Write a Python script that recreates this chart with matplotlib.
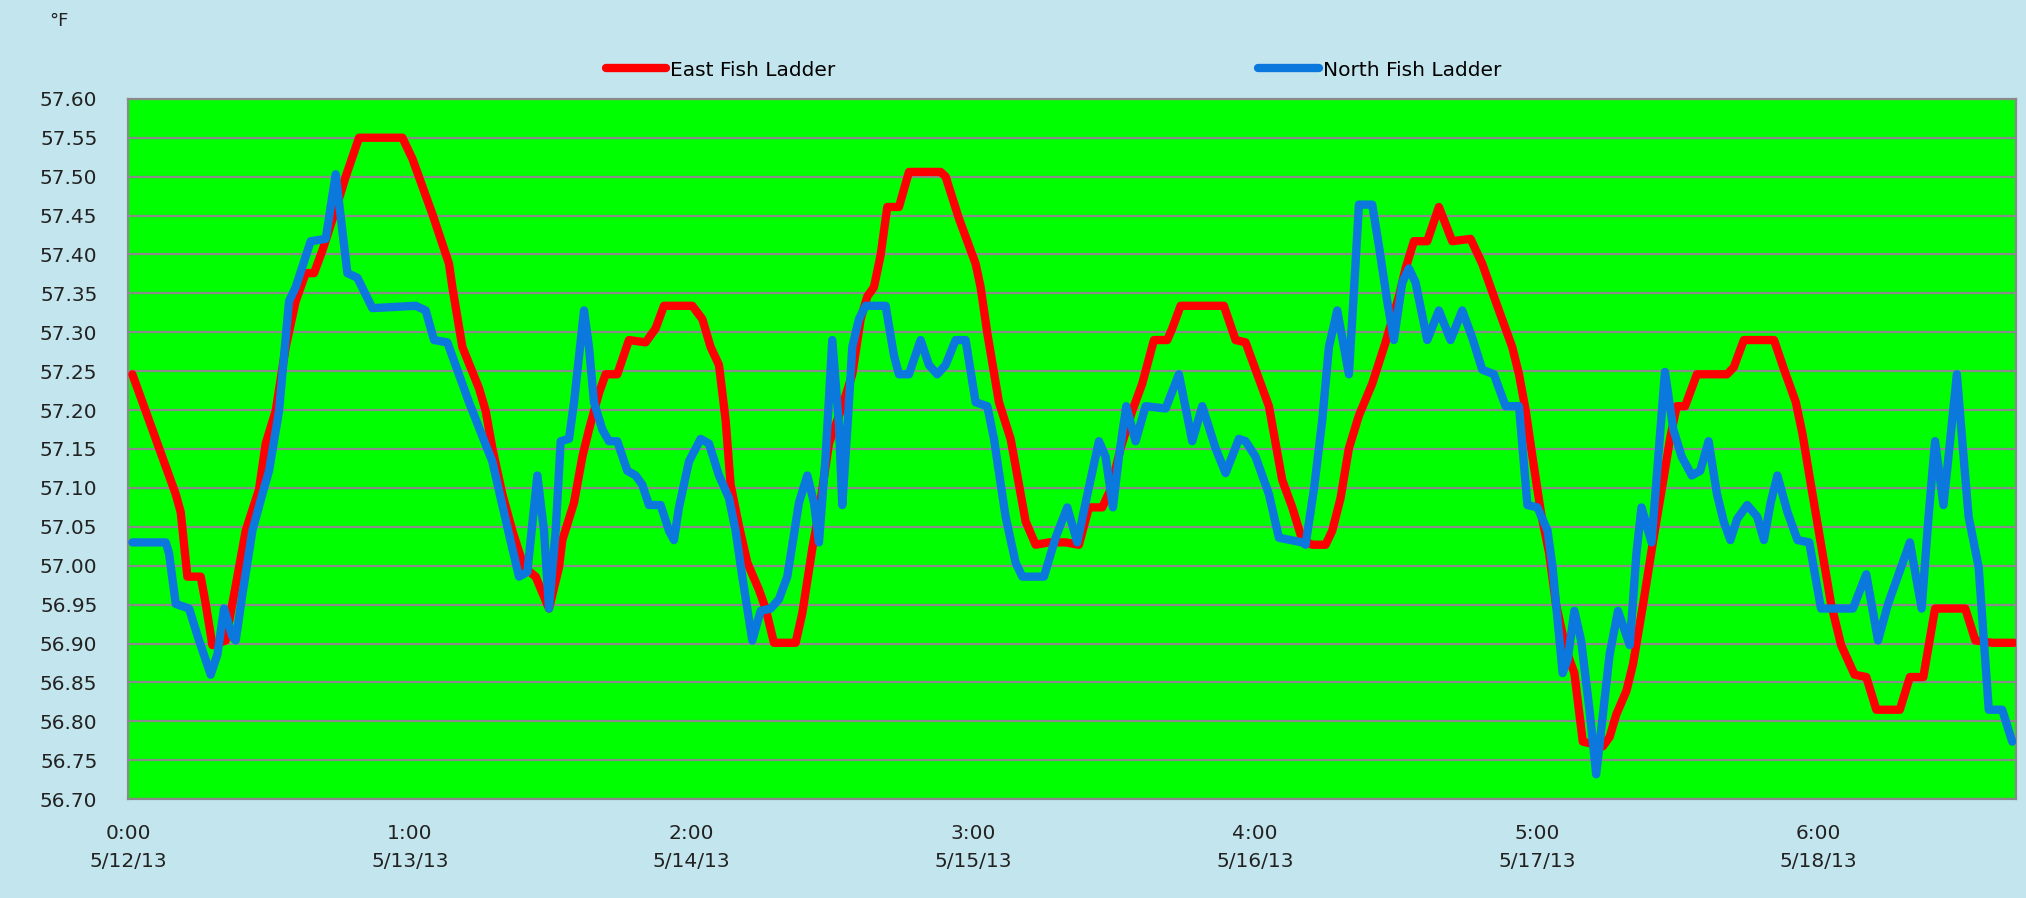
import matplotlib.pyplot as plt

# x in days since 5/12/13 0:00, values in deg F
east_x = [0.0154, 0.0864, 0.1692, 0.1869, 0.2106, 0.2579, 0.2757, 0.2993, 0.3466, 0.3703,
          0.4176, 0.4649, 0.4886, 0.5241, 0.5596, 0.5950, 0.6305, 0.6601, 0.6897, 0.7370,
          0.7725, 0.8198, 0.9736, 1.0091, 1.0800, 1.1392, 1.1510, 1.1865, 1.2456, 1.2693,
          1.2929, 1.3284, 1.3639, 1.4053, 1.4467, 1.4940, 1.5295, 1.5414, 1.5828, 1.6124,
          1.6360, 1.6714, 1.6950, 1.7364, 1.7778, 1.8370, 1.8725, 1.9020, 2.0026, 2.0381,
          2.0676, 2.0972, 2.1209, 2.1386, 2.1682, 2.1978, 2.2392, 2.2628, 2.2924, 2.3693,
          2.3930, 2.4284, 2.4521, 2.4876, 2.5349, 2.5704, 2.6000, 2.6236, 2.6473, 2.6709,
          2.6946, 2.7360, 2.7715, 2.8839, 2.9016, 2.9490, 3.0081, 3.0258, 3.0495, 3.0909,
          3.1323, 3.1500, 3.1855, 3.2210, 3.2683, 3.3274, 3.3747, 3.4102, 3.4576, 3.4871,
          3.5226, 3.5640, 3.5995, 3.6409, 3.6882, 3.7060, 3.7355, 3.8893, 3.9307, 3.9662,
          4.0017, 4.0490, 4.0727, 4.0963, 4.1318, 4.1673, 4.2028, 4.2501, 4.2738, 4.3033,
          4.3329, 4.3684, 4.4157, 4.4630, 4.5103, 4.5340, 4.5636, 4.6109, 4.6523, 4.6996,
          4.7647, 4.8061, 4.8534, 4.9125, 4.9366, 4.9605, 4.9843, 5.0141, 5.0438, 5.0676,
          5.1034, 5.1331, 5.1629, 5.2343, 5.2582, 5.2820, 5.3177, 5.3415, 5.3772, 5.4130,
          5.4487, 5.4725, 5.4963, 5.5261, 5.5678, 5.6749, 5.6988, 5.7345, 5.8417, 5.8774,
          5.9191, 5.9429, 5.9726, 6.0084, 6.0441, 6.0798, 6.1274, 6.1691, 6.2048, 6.2882,
          6.3239, 6.3716, 6.4132, 6.5204, 6.5561, 6.6157, 6.6931]
east_y = [57.246, 57.175, 57.092, 57.069, 56.986, 56.986, 56.951, 56.898, 56.904, 56.951,
          57.045, 57.098, 57.157, 57.199, 57.281, 57.340, 57.376, 57.376, 57.405, 57.458,
          57.500, 57.550, 57.550, 57.523, 57.452, 57.388, 57.358, 57.281, 57.228, 57.199,
          57.151, 57.092, 57.045, 56.998, 56.986, 56.945, 56.998, 57.033, 57.081, 57.140,
          57.175, 57.222, 57.246, 57.246, 57.290, 57.287, 57.305, 57.334, 57.334, 57.317,
          57.281, 57.258, 57.187, 57.104, 57.051, 57.004, 56.969, 56.945, 56.901, 56.901,
          56.939, 57.022, 57.069, 57.157, 57.205, 57.246, 57.317, 57.346, 57.358, 57.399,
          57.461, 57.461, 57.506, 57.506, 57.500, 57.446, 57.388, 57.358, 57.299, 57.210,
          57.163, 57.128, 57.057, 57.027, 57.030, 57.030, 57.027, 57.075, 57.075, 57.098,
          57.151, 57.199, 57.234, 57.290, 57.290, 57.305, 57.334, 57.334, 57.290, 57.287,
          57.252, 57.205, 57.157, 57.110, 57.075, 57.033, 57.027, 57.027, 57.045, 57.087,
          57.151, 57.193, 57.234, 57.287, 57.346, 57.382, 57.417, 57.417, 57.461, 57.417,
          57.420, 57.388, 57.340, 57.281, 57.246, 57.199, 57.140, 57.069, 57.016, 56.951,
          56.892, 56.862, 56.774, 56.768, 56.780, 56.809, 56.839, 56.874, 56.951, 57.033,
          57.110, 57.163, 57.205, 57.205, 57.246, 57.246, 57.255, 57.290, 57.290, 57.252,
          57.210, 57.169, 57.104, 57.027, 56.951, 56.898, 56.860, 56.857, 56.815, 56.815,
          56.857, 56.857, 56.945, 56.945, 56.904, 56.901, 56.901]

north_x = [0.0154, 0.1337, 0.1455, 0.1692, 0.2165, 0.2520, 0.2934, 0.3171, 0.3407, 0.3703,
           0.3821, 0.4058, 0.4413, 0.4767, 0.5004, 0.5359, 0.5714, 0.5950, 0.6483, 0.7015,
           0.7370, 0.7784, 0.8139, 0.8671, 1.0209, 1.0564, 1.0859, 1.1333, 1.2101, 1.2929,
           1.3225, 1.3639, 1.3876, 1.4172, 1.4526, 1.4763, 1.4940, 1.5177, 1.5355, 1.5650,
           1.5828, 1.6183, 1.6359, 1.6536, 1.6832, 1.7069, 1.7364, 1.7719, 1.8015, 1.8252,
           1.8488, 1.8902, 1.9198, 1.9375, 1.9553, 1.9907, 2.0322, 2.0617, 2.0972, 2.1327,
           2.1564, 2.1800, 2.2155, 2.2451, 2.2806, 2.3101, 2.3397, 2.3811, 2.4107, 2.4344,
           2.4521, 2.4757, 2.4994, 2.5231, 2.5349, 2.5526, 2.5704, 2.5940, 2.6177, 2.6887,
           2.7183, 2.7360, 2.7715, 2.8129, 2.8425, 2.8720, 2.9016, 2.9371, 2.9727, 3.0081,
           3.0495, 3.0732, 3.1145, 3.1500, 3.1737, 3.2506, 3.2919, 3.3333, 3.3688, 3.3984,
           3.4457, 3.4694, 3.4954, 3.5167, 3.5427, 3.5758, 3.6113, 3.6823, 3.7296, 3.7769,
           3.8124, 3.8597, 3.8952, 3.9425, 3.9662, 4.0017, 4.0490, 4.0845, 4.1673, 4.1791,
           4.2087, 4.2383, 4.2619, 4.2915, 4.3329, 4.3506, 4.3684, 4.4157, 4.4394, 4.4689,
           4.4926, 4.5222, 4.5458, 4.5695, 4.6109, 4.6523, 4.6937, 4.7351, 4.7706, 4.8061,
           4.8475, 4.8889, 4.9366, 4.9664, 5.0021, 5.0379, 5.0557, 5.0915, 5.1093, 5.1331,
           5.1570, 5.1867, 5.2105, 5.2343, 5.2582, 5.2879, 5.3296, 5.3534, 5.3713, 5.4070,
           5.4308, 5.4546, 5.4844, 5.5142, 5.5499, 5.5797, 5.6094, 5.6392, 5.6630, 5.6868,
           5.7107, 5.7464, 5.7821, 5.8059, 5.8297, 5.8536, 5.8893, 5.9250, 5.9667, 6.0084,
           6.0560, 6.1215, 6.1691, 6.2108, 6.2465, 6.3239, 6.3656, 6.3894, 6.4132, 6.4430,
           6.4609, 6.4906, 6.5144, 6.5323, 6.5680, 6.6038, 6.6514, 6.6871]
north_y = [57.030, 57.030, 57.016, 56.951, 56.945, 56.904, 56.860, 56.886, 56.945, 56.909,
           56.904, 56.963, 57.045, 57.092, 57.122, 57.199, 57.340, 57.358, 57.417, 57.420,
           57.503, 57.376, 57.370, 57.331, 57.334, 57.328, 57.290, 57.287, 57.210, 57.134,
           57.087, 57.022, 56.986, 56.992, 57.116, 57.045, 56.945, 57.045, 57.160, 57.163,
           57.210, 57.328, 57.281, 57.210, 57.175, 57.160, 57.160, 57.122, 57.116, 57.104,
           57.078, 57.078, 57.045, 57.033, 57.075, 57.134, 57.163, 57.157, 57.116, 57.087,
           57.045, 56.986, 56.904, 56.942, 56.945, 56.957, 56.986, 57.081, 57.116, 57.081,
           57.030, 57.140, 57.290, 57.181, 57.078, 57.175, 57.281, 57.317, 57.334, 57.334,
           57.270, 57.246, 57.246, 57.290, 57.258, 57.246, 57.258, 57.290, 57.290, 57.210,
           57.205, 57.163, 57.063, 57.004, 56.986, 56.986, 57.036, 57.075, 57.030, 57.081,
           57.160, 57.140, 57.075, 57.140, 57.205, 57.160, 57.205, 57.202, 57.246, 57.160,
           57.205, 57.151, 57.119, 57.163, 57.160, 57.140, 57.092, 57.036, 57.030, 57.027,
           57.098, 57.187, 57.281, 57.328, 57.246, 57.352, 57.464, 57.464, 57.411, 57.340,
           57.290, 57.364, 57.382, 57.364, 57.290, 57.328, 57.290, 57.328, 57.293, 57.252,
           57.246, 57.205, 57.205, 57.078, 57.075, 57.045, 56.998, 56.862, 56.880, 56.942,
           56.904, 56.815, 56.732, 56.809, 56.886, 56.942, 56.898, 57.016, 57.075, 57.030,
           57.140, 57.249, 57.175, 57.140, 57.116, 57.122, 57.160, 57.092, 57.057, 57.033,
           57.060, 57.078, 57.063, 57.033, 57.081, 57.116, 57.069, 57.033, 57.030, 56.945,
           56.945, 56.945, 56.989, 56.904, 56.951, 57.030, 56.945, 57.060, 57.160, 57.078,
           57.140, 57.246, 57.140, 57.063, 56.998, 56.815, 56.815, 56.774]

tick_days = [0, 1, 2, 3, 4, 5, 6]
tick_labels = ["0:00\n5/12/13", "1:00\n5/13/13", "2:00\n5/14/13", "3:00\n5/15/13",
               "4:00\n5/16/13", "5:00\n5/17/13", "6:00\n5/18/13"]
y_ticks = [56.70 + 0.05 * i for i in range(19)]

bg = "#c3e5ed"
fig = plt.figure(figsize=(20.26, 8.98), dpi=100, facecolor=bg)
ax = fig.add_axes([0.0632, 0.110, 0.9318, 0.780])
ax.set_facecolor("#00ff00")

ax.plot(east_x, east_y, color="#ff0000", lw=6, solid_joinstyle="round",
        solid_capstyle="round", label="East Fish Ladder", zorder=3)
ax.plot(north_x, north_y, color="#0a78dc", lw=6, solid_joinstyle="round",
        solid_capstyle="round", label="North Fish Ladder", zorder=4)

ax.set_xlim(0, 6.70)
ax.set_ylim(56.70, 57.60)
ax.set_yticks(y_ticks)
ax.set_yticklabels([f"{v:.2f}" for v in y_ticks])
ax.set_xticks(tick_days)
ax.set_xticklabels(tick_labels, linespacing=1.6)
ax.tick_params(axis="y", length=0, pad=22, labelsize=14.5, labelcolor="#222222")
ax.tick_params(axis="x", length=0, pad=18, labelsize=14.5, labelcolor="#222222")
ax.grid(axis="y", color="#8a8a8a", lw=1.6)
ax.set_axisbelow(True)
for s in ax.spines.values():
    s.set_color("#8a8a8a")
    s.set_linewidth(1.6)

fig.legend(loc="center", bbox_to_anchor=(0.52, 0.922), ncol=2, frameon=False,
           fontsize=14.5, handlelength=3.0, handletextpad=0.2, columnspacing=21,
           borderaxespad=0)
fig.text(0.029, 0.977, "°F", fontsize=13, ha="center", va="center", color="#222222")

fig.savefig("out.png", dpi=100, facecolor=bg)
